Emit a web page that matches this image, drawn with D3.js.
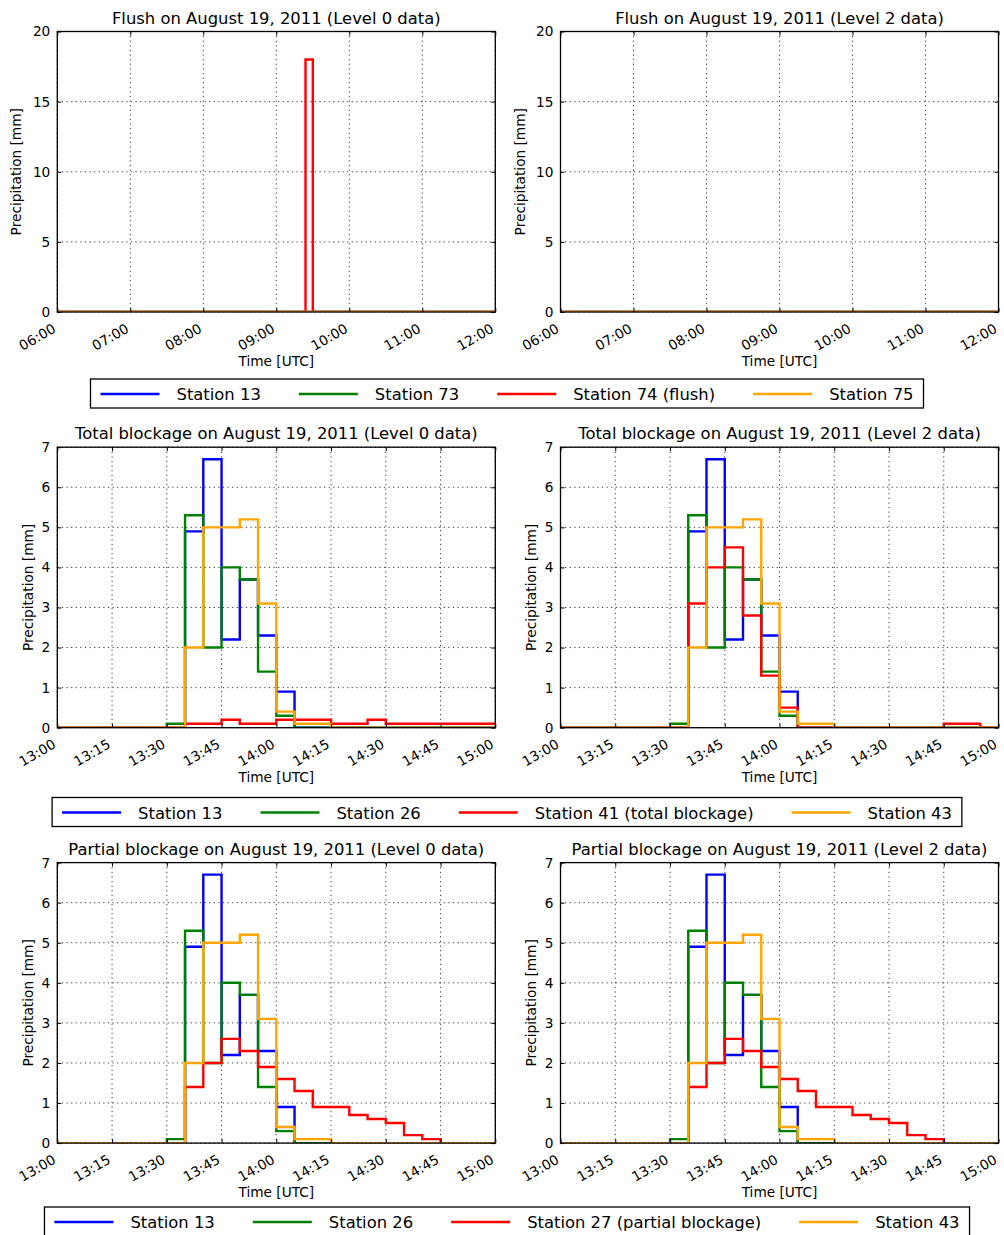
<!DOCTYPE html>
<html><head><meta charset="utf-8">
<script src="https://cdn.jsdelivr.net/npm/d3@7"></script>
<style>
body{margin:0;background:#fff}
text{font-family:"DejaVu Sans",sans-serif;fill:#000}
</style>
</head><body>
<svg id="chart" width="1004" height="1235"></svg>
<script>
// ---------------- DATA ----------------
const flushTicks = ["06:00","07:00","08:00","09:00","10:00","11:00","12:00"];
const flushYTicks = [0,5,10,15,20];
const blockTicks = ["13:00","13:15","13:30","13:45","14:00","14:15","14:30","14:45","15:00"];
const blockYTicks = [0,1,2,3,4,5,6,7];

// Flush case: step series (value holds from its time until next time)
const flushZeroTimes = ["06:00","12:00"];
const st13Flush = [0,0];
const st73Flush = [0,0];
const st75Flush = [0,0];
const st74Level0Times = ["06:00","09:24","09:30","12:00"];
const st74Level0 = [0,18,0,0];
const st74Level2Times = ["06:00","12:00"];
const st74Level2 = [0,0];

// Blockage cases: 5-minute bins starting at these times (last bin ends 15:00)
const binStarts = ["13:00","13:05","13:10","13:15","13:20","13:25","13:30","13:35","13:40","13:45","13:50","13:55",
                   "14:00","14:05","14:10","14:15","14:20","14:25","14:30","14:35","14:40","14:45","14:50","14:55"];
const binEnd = "15:00";
const st13 = [0,0,0,0,0,0,0,4.9,6.7,2.2,3.7,2.3,0.9,0,0,0,0,0,0,0,0,0,0,0];
const st26 = [0,0,0,0,0,0,0.1,5.3,2.0,4.0,3.7,1.4,0.3,0,0,0,0,0,0,0,0,0,0,0];
const st43 = [0,0,0,0,0,0,0,2.0,5.0,5.0,5.2,3.1,0.4,0.1,0.1,0,0,0,0,0,0,0,0,0];
const st41Level0 = [0,0,0,0,0,0,0,0.1,0.1,0.2,0.1,0.1,0.2,0.2,0.2,0.1,0.1,0.2,0.1,0.1,0.1,0.1,0.1,0.1];
const st41Level2 = [0,0,0,0,0,0,0,3.1,4.0,4.5,2.8,1.3,0.5,0,0,0,0,0,0,0,0,0.1,0.1,0];
const st27Level0 = [0,0,0,0,0,0,0,1.4,2.0,2.6,2.3,1.9,1.6,1.3,0.9,0.9,0.7,0.6,0.5,0.2,0.1,0,0,0];
const st27Level2 = [0,0,0,0,0,0,0,1.4,2.0,2.6,2.3,1.9,1.6,1.3,0.9,0.9,0.7,0.6,0.5,0.2,0.1,0,0,0];

const flushLabels = ["Station 13","Station 73","Station 74 (flush)","Station 75"];
const totalLabels = ["Station 13","Station 26","Station 41 (total blockage)","Station 43"];
const partialLabels = ["Station 13","Station 26","Station 27 (partial blockage)","Station 43"];
const colors = ["#0000ff","#008000","#ff0000","#ffa500"];

// ---------------- HELPERS ----------------
const parse = d3.utcParse("%H:%M");
const fmt = d3.utcFormat("%H:%M");
function timedSeries(times, vals){ return times.map((t,i)=>[parse(t), vals[i]]); }
function binnedSeries(vals){
  const pts = binStarts.map((t,i)=>[parse(t), vals[i]]);
  pts.push([parse(binEnd), vals[vals.length-1]]);
  return pts;
}

const svg = d3.select("#chart");
const W = 438, H = 280.5;
const LX = 57.3, RX = 560.5;

const panels = [
  {x:LX, y:31.5, title:"Flush on August 19, 2011 (Level 0 data)", xt:flushTicks, yt:flushYTicks, ylo:36,
   series:[timedSeries(flushZeroTimes,st13Flush),timedSeries(flushZeroTimes,st73Flush),timedSeries(st74Level0Times,st74Level0),timedSeries(flushZeroTimes,st75Flush)]},
  {x:RX, y:31.5, title:"Flush on August 19, 2011 (Level 2 data)", xt:flushTicks, yt:flushYTicks, ylo:36,
   series:[timedSeries(flushZeroTimes,st13Flush),timedSeries(flushZeroTimes,st73Flush),timedSeries(st74Level2Times,st74Level2),timedSeries(flushZeroTimes,st75Flush)]},
  {x:LX, y:447.2, title:"Total blockage on August 19, 2011 (Level 0 data)", xt:blockTicks, yt:blockYTicks, ylo:24.5,
   series:[binnedSeries(st13),binnedSeries(st26),binnedSeries(st41Level0),binnedSeries(st43)]},
  {x:RX, y:447.2, title:"Total blockage on August 19, 2011 (Level 2 data)", xt:blockTicks, yt:blockYTicks, ylo:24.5,
   series:[binnedSeries(st13),binnedSeries(st26),binnedSeries(st41Level2),binnedSeries(st43)]},
  {x:LX, y:862.6, title:"Partial blockage on August 19, 2011 (Level 0 data)", xt:blockTicks, yt:blockYTicks, ylo:24.5,
   series:[binnedSeries(st13),binnedSeries(st26),binnedSeries(st27Level0),binnedSeries(st43)]},
  {x:RX, y:862.6, title:"Partial blockage on August 19, 2011 (Level 2 data)", xt:blockTicks, yt:blockYTicks, ylo:24.5,
   series:[binnedSeries(st13),binnedSeries(st26),binnedSeries(st27Level2),binnedSeries(st43)]}
];

panels.forEach((p, idx) => {
  const g = svg.append("g").attr("transform", `translate(${p.x},${p.y})`);
  const xTickDates = p.xt.map(parse);
  const x = d3.scaleUtc().domain([xTickDates[0], xTickDates[xTickDates.length-1]]).range([0, W]);
  const y = d3.scaleLinear().domain([p.yt[0], p.yt[p.yt.length-1]]).range([H, 0]);

  // grid
  const grid = g.append("g").attr("stroke","#222").attr("stroke-width",0.9).attr("stroke-dasharray","1.2,3.4");
  xTickDates.forEach(d => grid.append("line").attr("x1",x(d)).attr("x2",x(d)).attr("y1",0).attr("y2",H));
  p.yt.forEach(v => grid.append("line").attr("x1",0).attr("x2",W).attr("y1",y(v)).attr("y2",y(v)));

  // clip
  const cid = "clip"+idx;
  g.append("clipPath").attr("id",cid).append("rect").attr("width",W).attr("height",H);

  const line = d3.line().x(d=>x(d[0])).y(d=>y(d[1])).curve(d3.curveStepAfter);
  const lg = g.append("g").attr("clip-path",`url(#${cid})`);
  p.series.forEach((s,i) => {
    lg.append("path").datum(s).attr("d", line).attr("fill","none")
      .attr("stroke", colors[i]).attr("stroke-width", 2.4).attr("stroke-linejoin","miter");
  });

  // axes (ticks inside on all sides)
  const bottom = g.append("g").attr("transform",`translate(0,${H})`)
    .call(d3.axisBottom(x).tickValues(xTickDates).tickSize(-4).tickFormat(""));
  const top = g.append("g").call(d3.axisTop(x).tickValues(xTickDates).tickSize(-4).tickFormat(""));
  const left = g.append("g").call(d3.axisLeft(y).tickValues(p.yt).tickSize(-4).tickFormat(""));
  const right = g.append("g").attr("transform",`translate(${W},0)`)
    .call(d3.axisRight(y).tickValues(p.yt).tickSize(-4).tickFormat(""));
  [bottom,top,left,right].forEach(a => { a.select(".domain").remove(); a.selectAll("line").attr("stroke","#000").attr("stroke-width",1); });

  // frame
  g.append("rect").attr("width",W).attr("height",H).attr("fill","none").attr("stroke","#000").attr("stroke-width",1.3);

  // y tick labels
  p.yt.forEach(v => g.append("text").attr("x",-7).attr("y",y(v)).attr("dy","0.36em")
    .attr("text-anchor","end").style("font-size","13.7px").text(v));
  // x tick labels rotated
  xTickDates.forEach(d => g.append("text")
    .attr("transform",`translate(${x(d)-3},${H+15}) rotate(-30)`)
    .attr("text-anchor","end").attr("dy","0.36em").style("font-size","13.7px").text(fmt(d)));

  // axis labels
  g.append("text").attr("x",W/2).attr("y",H+54).attr("text-anchor","middle").style("font-size","13.7px").text("Time [UTC]");
  g.append("text").attr("transform",`translate(${-p.ylo},${H/2}) rotate(-90)`).attr("text-anchor","middle")
    .style("font-size","13.7px").text("Precipitation [mm]");
  // title
  g.append("text").attr("x",W/2).attr("y",-8).attr("text-anchor","middle").style("font-size","16.4px").text(p.title);
});

// ---------------- LEGENDS ----------------
function legend(labels, top){
  const g = svg.append("g");
  const handle = 59, gap = 17, colSp = 38, pad = 10, h = 29;
  const items = labels.map((l,i) => {
    const t = g.append("text").attr("y", top+21).style("font-size","16.4px").text(l);
    return {t, w: t.node().getComputedTextLength(), c: colors[i]};
  });
  const total = pad*2 + items.reduce((s,it)=>s+handle+gap+it.w,0) + colSp*(items.length-1);
  const x0 = 507 - total/2;
  g.insert("rect","text").attr("x",x0).attr("y",top).attr("width",total).attr("height",h)
    .attr("fill","#fff").attr("stroke","#000").attr("stroke-width",1.3);
  let cx = x0 + pad;
  items.forEach(it => {
    g.append("line").attr("x1",cx).attr("x2",cx+handle).attr("y1",top+15).attr("y2",top+15)
      .attr("stroke",it.c).attr("stroke-width",2.6);
    it.t.attr("x", cx+handle+gap);
    cx += handle + gap + it.w + colSp;
  });
}
legend(flushLabels, 379);
legend(totalLabels, 797.5);
legend(partialLabels, 1207);
</script>
</body></html>
